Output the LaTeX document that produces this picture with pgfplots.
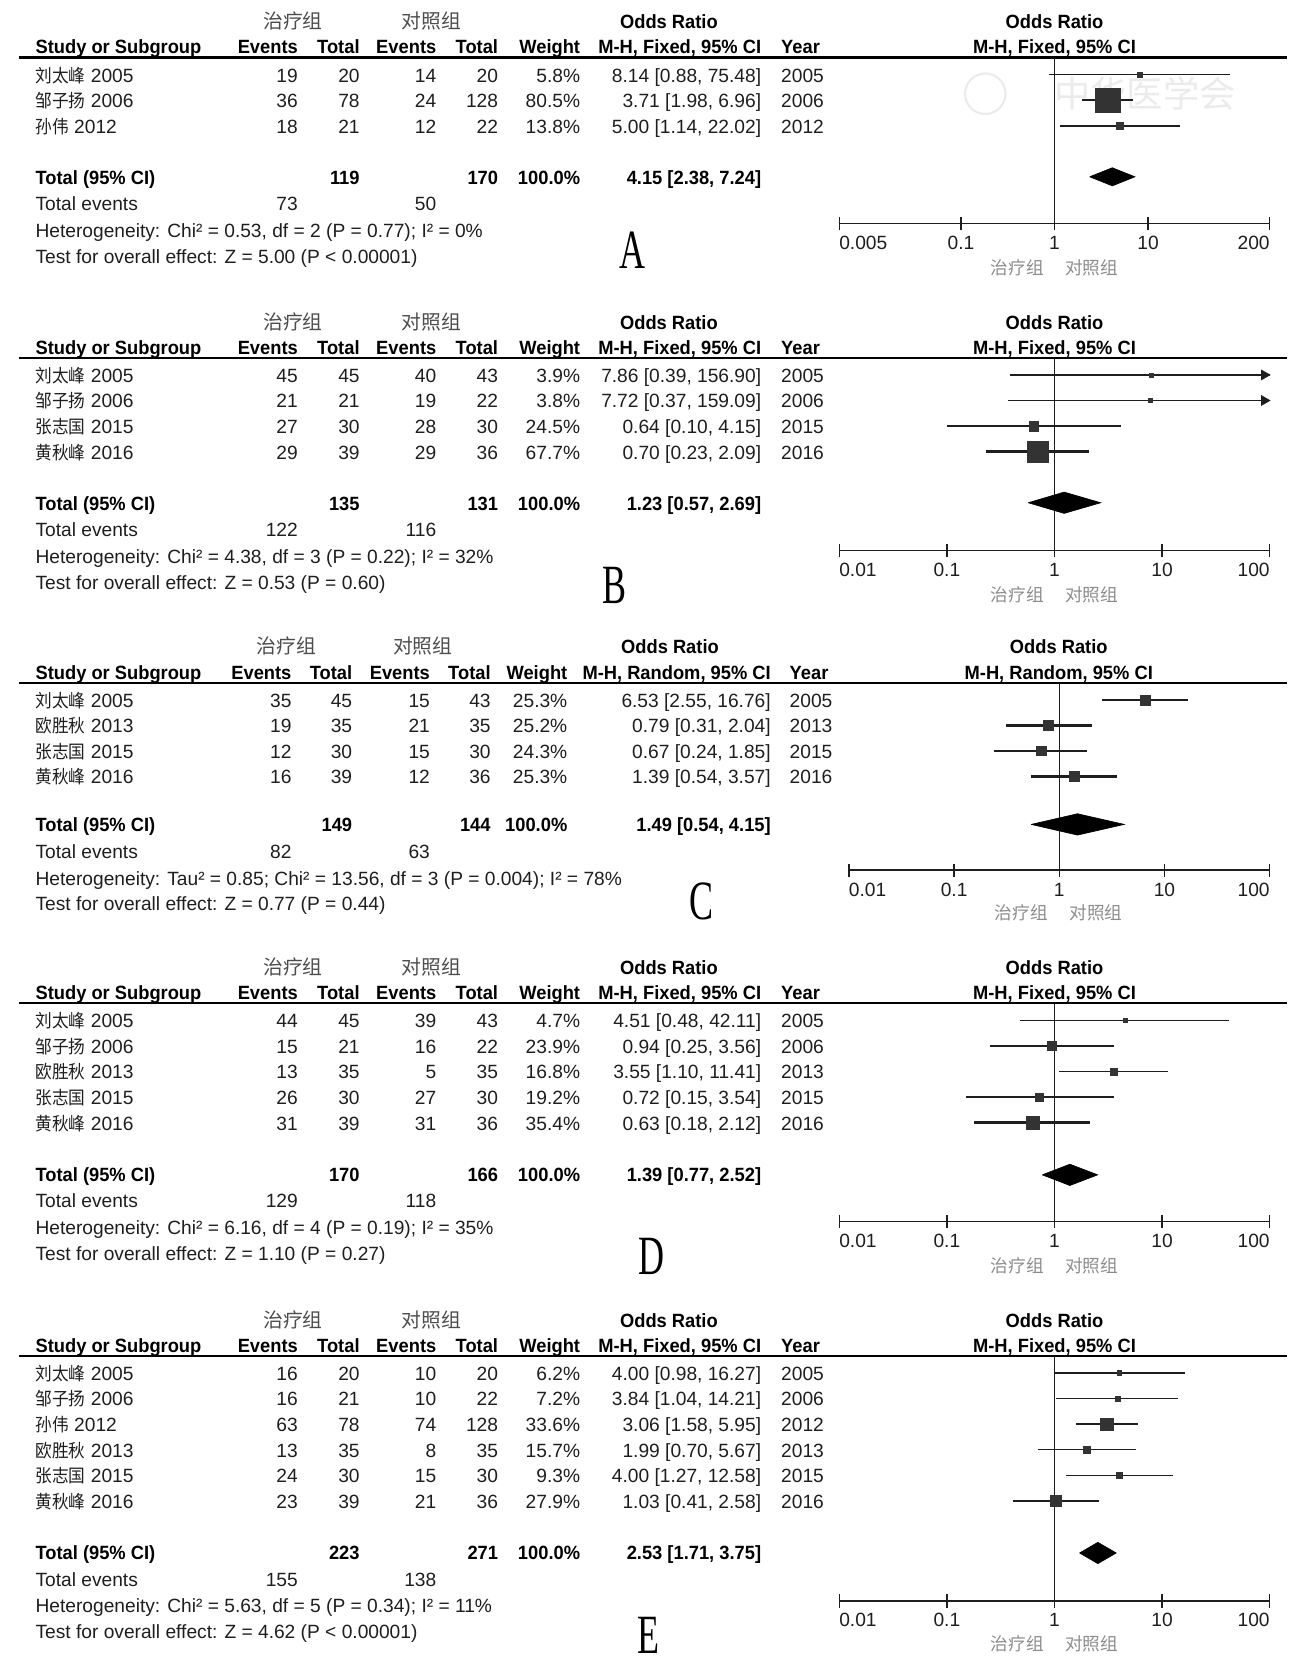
\documentclass[border=0pt]{standalone}
\usepackage{pgfplots}
\pgfplotsset{compat=1.18}
\usepackage{fontspec}
\setmainfont{Liberation Sans}[BoldFeatures={FakeStretch=0.955}]
\newfontfamily\cjk{Noto Sans CJK SC}
\newfontfamily\cjkn{Noto Sans CJK SC}[FakeStretch=0.92]
\newfontfamily\letf{Liberation Serif}[FakeStretch=0.65]
\definecolor{txt}{HTML}{1E1E1E}
\definecolor{sq}{HTML}{333333}
\definecolor{lbl}{HTML}{8C8C8C}
\newcommand\fs{\fontsize{9}{11}\selectfont}

% column positions (right edges, Year left edge)
\newcommand\setcols[7]{\def\xEa{#1}\def\xTa{#2}\def\xEb{#3}\def\xTb{#4}\def\xW{#5}\def\xOR{#6}\def\xY{#7}}

% study row: y, name, year, e1, t1, e2, t2, weight, OR text
\newcommand\srow[9]{%
  \node[L] at (33,#1) {{\cjkn\fontsize{8.5}{10}\selectfont #2} #3};
  \node[R] at (\xEa,#1) {#4};
  \node[R] at (\xTa,#1) {#5};
  \node[R] at (\xEb,#1) {#6};
  \node[R] at (\xTb,#1) {#7};
  \node[R] at (\xW,#1) {#8\%};
  \node[R] at (\xOR,#1) {#9};
  \node[L] at (\xY,#1) {#3};
}

% headers: model, x of 治疗组, x of 对照组, x of Odds Ratio, x of right header
\newcommand\heads[5]{%
  \node[C,grp] at (#2,\oy-27) {治疗组};
  \node[C,grp] at (#3,\oy-27) {对照组};
  \node[C,bld] at (#4,\oy-27) {Odds Ratio};
  \node[C,bld] at (#5,\oy-27) {Odds Ratio};
  \node[L,bld] at (33,\oy-3.5) {Study or Subgroup};
  \node[R,bld] at (\xEa,\oy-3.5) {Events};
  \node[R,bld] at (\xTa,\oy-3.5) {Total};
  \node[R,bld] at (\xEb,\oy-3.5) {Events};
  \node[R,bld] at (\xTb,\oy-3.5) {Total};
  \node[R,bld] at (\xW,\oy-3.5) {Weight};
  \node[R,bld] at (\xOR,\oy-3.5) {M-H, #1, 95\% CI};
  \node[L,bld] at (\xY,\oy-3.5) {Year};
  \node[C,bld] at (#5,\oy-3.5) {M-H, #1, 95\% CI};
  \draw[line width=1pt, draw=black] (18,\oy) -- (1208,\oy);
}

% total block: y, total1, total2, OR text, events1, events2, heterogeneity, overall
\newcommand\foot[8]{%
  \node[L,bld] at (33,#1) {Total (95\% CI)};
  \node[R,bld] at (\xTa,#1) {#2};
  \node[R,bld] at (\xTb,#1) {#3};
  \node[R,bld] at (\xW,#1) {100.0\%};
  \node[R,bld] at (\xOR,#1) {#4};
  \node[L] at (33,#1+25) {Total events};
  \node[R] at (\xEa,#1+25) {#5};
  \node[R] at (\xEb,#1+25) {#6};
  \node[L] at (33,#1+50) {#7};
  \node[L] at (33,#1+74) {#8};
}

% one study in the forest plot: line width, mark size, y, lower, OR, upper
\newcommand\study[6]{%
  \addplot[draw=txt, line width=#1pt, mark=square*, mark indices={2}, mark size=#2pt,
    mark options={draw=sq, fill=sq, line width=0.2pt, solid}]
    coordinates {(#4,#3) (#5,#3) (#6,#3)};
}

\begin{document}
\begin{tikzpicture}[x=0.5pt, y=-0.5pt,
  every node/.style={inner sep=0pt, font=\fs, text=txt},
  L/.style={anchor=base west}, R/.style={anchor=base east}, C/.style={anchor=base},
  bld/.style={font=\fs\bfseries, text=black},
  grp/.style={font=\cjk\fontsize{9.3}{11}\selectfont, text=black!70},
  lab/.style={font=\cjk\fontsize{8.3}{10}\selectfont, text=lbl},
  letter/.style={font=\letf\fontsize{26}{26}\selectfont, text=black},
  vline/.style={draw=txt, line width=0.7pt},
  dia/.style={fill=black, draw=black, line width=0.3pt}]
\useasboundingbox (0,0) rectangle (1218,1566);

% ---------------- A ----------------
\def\oy{54}
\setcols{280}{338}{410}{468}{545}{715}{733}
\heads{Fixed}{275}{405}{628}{990}
\srow{\oy+23}{刘太峰}{2005}{19}{20}{14}{20}{5.8}{8.14 [0.88, 75.48]}
\srow{\oy+47}{邹子扬}{2006}{36}{78}{24}{128}{80.5}{3.71 [1.98, 6.96]}
\srow{\oy+71}{孙伟}{2012}{18}{21}{12}{22}{13.8}{5.00 [1.14, 22.02]}
\foot{\oy+119}{119}{170}{4.15 [2.38, 7.24]}{73}{50}{Heterogeneity: Chi² = 0.53, df = 2 (P = 0.77); I² = 0\%}{Test for overall effect: Z = 5.00 (P < 0.00001)}
\node[letter] at (594,235) {A};
\node[lab] at (955,251) {治疗组};
\node[lab] at (1025,251) {对照组};
\draw[black!8, line width=1pt] (925,88) circle (19);
\node[font=\cjk\fontsize{17}{17}\selectfont, text=black!8] at (1075,88) {中华医学会};
\begin{axis}[at={(394pt,-105pt)}, anchor=south west, scale only axis,
  width=202pt, height=78pt, xmode=log,
  xmin=0.005, xmax=200, ymin=-156, ymax=0,
  axis x line=bottom, axis y line=none, ytick=\empty,
  axis line style={-, line width=0.7pt, draw=txt},
  tick align=center, major tick length=6.3pt, xminorticks=false,
  tick style={line width=0.7pt, draw=txt}, clip=false,
  xticklabel style={anchor=base, yshift=-9pt, font=\fs, text=txt},
  xtick={0.005,0.1,1,10,200}, xticklabels={\rlap{0.005},0.1,1,10,\llap{200}}]
\addplot[vline] coordinates {(1,0) (1,-156)};
\study{0.6}{1.07}{-16}{0.88}{8.14}{75.48}
\study{1.1}{5.81}{-40}{1.98}{3.71}{6.96}
\study{0.8}{1.58}{-64}{1.14}{5.00}{22.02}
\addplot[dia] coordinates {(2.38,-112) (4.15,-103.5) (7.24,-112) (4.15,-120.5) (2.38,-112)};
\end{axis}

% ---------------- B ----------------
\def\oy{336}
\heads{Fixed}{275}{405}{628}{990}
\srow{\oy+23}{刘太峰}{2005}{45}{45}{40}{43}{3.9}{7.86 [0.39, 156.90]}
\srow{\oy+47}{邹子扬}{2006}{21}{21}{19}{22}{3.8}{7.72 [0.37, 159.09]}
\srow{\oy+71}{张志国}{2015}{27}{30}{28}{30}{24.5}{0.64 [0.10, 4.15]}
\srow{\oy+95}{黄秋峰}{2016}{29}{39}{29}{36}{67.7}{0.70 [0.23, 2.09]}
\foot{\oy+143}{135}{131}{1.23 [0.57, 2.69]}{122}{116}{Heterogeneity: Chi² = 4.38, df = 3 (P = 0.22); I² = 32\%}{Test for overall effect: Z = 0.53 (P = 0.60)}
\node[letter] at (577,550) {B};
\node[lab] at (955,558) {治疗组};
\node[lab] at (1025,558) {对照组};
\begin{axis}[at={(394pt,-258.5pt)}, anchor=south west, scale only axis,
  width=202pt, height=90.5pt, xmode=log,
  xmin=0.01, xmax=100, ymin=-181, ymax=0,
  axis x line=bottom, axis y line=none, ytick=\empty,
  axis line style={-, line width=0.7pt, draw=txt},
  tick align=center, major tick length=6.3pt, xminorticks=false,
  tick style={line width=0.7pt, draw=txt}, clip=false,
  xticklabel style={anchor=base, yshift=-9pt, font=\fs, text=txt},
  xtick={0.01,0.1,1,10,100}, xticklabels={\rlap{0.01},0.1,1,10,\llap{100}}]
\addplot[vline] coordinates {(1,0) (1,-181)};
% CI beyond the axis: line to 100 with a right-pointing head
\study{0.6}{0.95}{-16}{0.39}{7.86}{100}
\addplot[only marks, mark=triangle*, mark size=2.6pt, mark options={draw=txt, fill=txt, rotate=-90}] coordinates {(89,-16)};
\study{0.6}{0.94}{-40}{0.37}{7.72}{100}
\addplot[only marks, mark=triangle*, mark size=2.6pt, mark options={draw=txt, fill=txt, rotate=-90}] coordinates {(89,-40)};
\study{1.1}{2.26}{-64}{0.10}{0.64}{4.15}
\study{1.1}{5.00}{-88}{0.23}{0.70}{2.09}
\addplot[dia] coordinates {(0.57,-136) (1.23,-126) (2.69,-136) (1.23,-146) (0.57,-136)};
\end{axis}

% ---------------- C ----------------
\def\oy{641}
\setcols{274}{331}{404}{461}{533}{724}{741}
\heads{Random}{269}{397}{629}{994}
\srow{\oy+23}{刘太峰}{2005}{35}{45}{15}{43}{25.3}{6.53 [2.55, 16.76]}
\srow{\oy+47}{欧胜秋}{2013}{19}{35}{21}{35}{25.2}{0.79 [0.31, 2.04]}
\srow{\oy+71}{张志国}{2015}{12}{30}{15}{30}{24.3}{0.67 [0.24, 1.85]}
\srow{\oy+95}{黄秋峰}{2016}{16}{39}{12}{36}{25.3}{1.39 [0.54, 3.57]}
\foot{\oy+140}{149}{144}{1.49 [0.54, 4.15]}{82}{63}{Heterogeneity: Tau² = 0.85; Chi² = 13.56, df = 3 (P = 0.004); I² = 78\%}{Test for overall effect: Z = 0.77 (P = 0.44)}
\node[letter] at (659,846) {C};
\node[lab] at (959,857) {治疗组};
\node[lab] at (1029,857) {对照组};
\begin{axis}[at={(398.5pt,-408.5pt)}, anchor=south west, scale only axis,
  width=197.5pt, height=88pt, xmode=log,
  xmin=0.01, xmax=100, ymin=-176, ymax=0,
  axis x line=bottom, axis y line=none, ytick=\empty,
  axis line style={-, line width=0.7pt, draw=txt},
  tick align=center, major tick length=6.3pt, xminorticks=false,
  tick style={line width=0.7pt, draw=txt}, clip=false,
  xticklabel style={anchor=base, yshift=-9pt, font=\fs, text=txt},
  xtick={0.01,0.1,1,10,100}, xticklabels={\rlap{0.01},0.1,1,10,\llap{100}}]
\addplot[vline] coordinates {(1,0) (1,-176)};
\study{1.1}{2.31}{-16}{2.55}{6.53}{16.76}
\study{1.1}{2.30}{-40}{0.31}{0.79}{2.04}
\study{1.1}{2.24}{-64}{0.24}{0.67}{1.85}
\study{1.1}{2.31}{-88}{0.54}{1.39}{3.57}
\addplot[dia] coordinates {(0.54,-133) (1.49,-123) (4.15,-133) (1.49,-143) (0.54,-133)};
\end{axis}

% ---------------- D ----------------
\def\oy{942}
\setcols{280}{338}{410}{468}{545}{715}{733}
\heads{Fixed}{275}{405}{628}{990}
\srow{\oy+23}{刘太峰}{2005}{44}{45}{39}{43}{4.7}{4.51 [0.48, 42.11]}
\srow{\oy+47}{邹子扬}{2006}{15}{21}{16}{22}{23.9}{0.94 [0.25, 3.56]}
\srow{\oy+71}{欧胜秋}{2013}{13}{35}{5}{35}{16.8}{3.55 [1.10, 11.41]}
\srow{\oy+95}{张志国}{2015}{26}{30}{27}{30}{19.2}{0.72 [0.15, 3.54]}
\srow{\oy+119}{黄秋峰}{2016}{31}{39}{31}{36}{35.4}{0.63 [0.18, 2.12]}
\foot{\oy+167}{170}{166}{1.39 [0.77, 2.52]}{129}{118}{Heterogeneity: Chi² = 6.16, df = 4 (P = 0.19); I² = 35\%}{Test for overall effect: Z = 1.10 (P = 0.27)}
\node[letter] at (612,1180) {D};
\node[lab] at (955,1188) {治疗组};
\node[lab] at (1025,1188) {对照组};
\begin{axis}[at={(394pt,-573.5pt)}, anchor=south west, scale only axis,
  width=202pt, height=102.5pt, xmode=log,
  xmin=0.01, xmax=100, ymin=-205, ymax=0,
  axis x line=bottom, axis y line=none, ytick=\empty,
  axis line style={-, line width=0.7pt, draw=txt},
  tick align=center, major tick length=6.3pt, xminorticks=false,
  tick style={line width=0.7pt, draw=txt}, clip=false,
  xticklabel style={anchor=base, yshift=-9pt, font=\fs, text=txt},
  xtick={0.01,0.1,1,10,100}, xticklabels={\rlap{0.01},0.1,1,10,\llap{100}}]
\addplot[vline] coordinates {(1,0) (1,-205)};
\study{0.6}{1.00}{-16}{0.48}{4.51}{42.11}
\study{1.1}{2.22}{-40}{0.25}{0.94}{3.56}
\study{0.6}{1.77}{-64}{1.10}{3.55}{11.41}
\study{0.6}{1.92}{-88}{0.15}{0.72}{3.54}
\study{1.1}{2.95}{-112}{0.18}{0.63}{2.12}
\addplot[dia] coordinates {(0.77,-161) (1.39,-151) (2.52,-161) (1.39,-171) (0.77,-161)};
\end{axis}

% ---------------- E ----------------
\def\oy{1273}
\heads{Fixed}{275}{405}{628}{990}
\srow{\oy+23}{刘太峰}{2005}{16}{20}{10}{20}{6.2}{4.00 [0.98, 16.27]}
\srow{\oy+47}{邹子扬}{2006}{16}{21}{10}{22}{7.2}{3.84 [1.04, 14.21]}
\srow{\oy+71}{孙伟}{2012}{63}{78}{74}{128}{33.6}{3.06 [1.58, 5.95]}
\srow{\oy+95}{欧胜秋}{2013}{13}{35}{8}{35}{15.7}{1.99 [0.70, 5.67]}
\srow{\oy+119}{张志国}{2015}{24}{30}{15}{30}{9.3}{4.00 [1.27, 12.58]}
\srow{\oy+143}{黄秋峰}{2016}{23}{39}{21}{36}{27.9}{1.03 [0.41, 2.58]}
\foot{\oy+191}{223}{271}{2.53 [1.71, 3.75]}{155}{138}{Heterogeneity: Chi² = 5.63, df = 5 (P = 0.34); I² = 11\%}{Test for overall effect: Z = 4.62 (P < 0.00001)}
\node[letter] at (609,1535) {E};
\node[lab] at (955,1543) {治疗组};
\node[lab] at (1025,1543) {对照组};
\begin{axis}[at={(394pt,-751.5pt)}, anchor=south west, scale only axis,
  width=202pt, height=115pt, xmode=log,
  xmin=0.01, xmax=100, ymin=-230, ymax=0,
  axis x line=bottom, axis y line=none, ytick=\empty,
  axis line style={-, line width=0.7pt, draw=txt},
  tick align=center, major tick length=6.3pt, xminorticks=false,
  tick style={line width=0.7pt, draw=txt}, clip=false,
  xticklabel style={anchor=base, yshift=-9pt, font=\fs, text=txt},
  xtick={0.01,0.1,1,10,100}, xticklabels={\rlap{0.01},0.1,1,10,\llap{100}}]
\addplot[vline] coordinates {(1,0) (1,-230)};
\study{0.7}{1.09}{-16}{0.98}{4.00}{16.27}
\study{0.9}{1.16}{-40}{1.04}{3.84}{14.21}
\study{0.8}{2.83}{-64}{1.58}{3.06}{5.95}
\study{0.7}{1.70}{-88}{0.70}{1.99}{5.67}
\study{0.6}{1.29}{-112}{1.27}{4.00}{12.58}
\study{1.1}{2.47}{-136}{0.41}{1.03}{2.58}
\addplot[dia] coordinates {(1.71,-185) (2.53,-175) (3.75,-185) (2.53,-195) (1.71,-185)};
\end{axis}
\end{tikzpicture}
\end{document}
